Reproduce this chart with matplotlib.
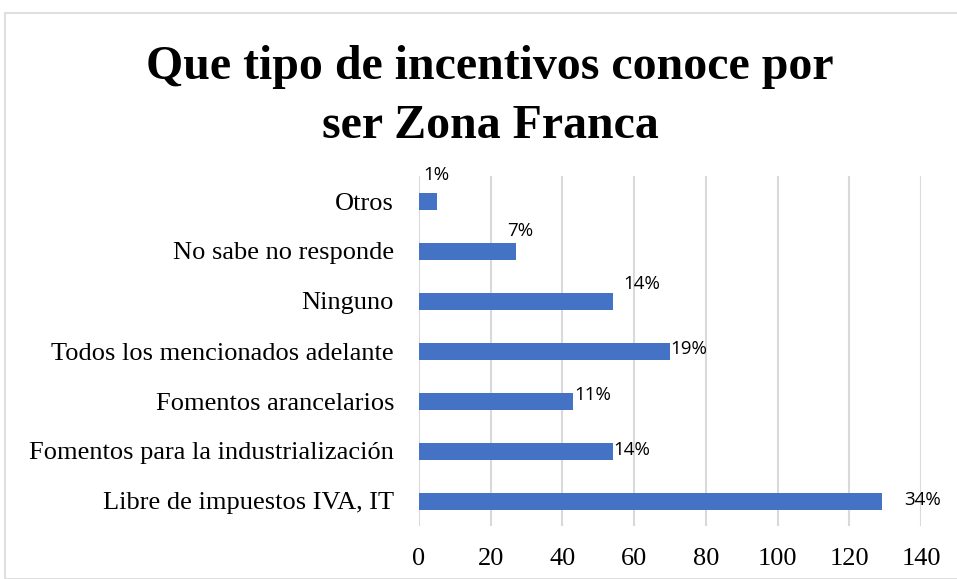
import matplotlib
matplotlib.use("Agg")
from matplotlib import pyplot as plt
from matplotlib.patches import Rectangle

categories = [
    "Libre de impuestos IVA, IT",
    "Fomentos para la industrialización",
    "Fomentos arancelarios",
    "Todos los mencionados adelante",
    "Ninguno",
    "No sabe no responde",
    "Otros",
]
values = [129, 54, 43, 70, 54, 27, 5]
pct_labels = ["34%", "14%", "11%", "19%", "14%", "7%", "1%"]
ticks = [0, 20, 40, 60, 80, 100, 120, 140]

# label offsets in pixels (excel put them a bit all over the place)
label_offsets = [(23, 1), (1, 1), (1, 6), (0, 2), (11, 17), (-9, 20), (-14, 26)]

fig = plt.figure(figsize=(9.57, 5.79), dpi=100)
fig.patches.append(Rectangle((5 / 957, 0), 1, 1 - 13 / 579, transform=fig.transFigure,
                             fill=False, edgecolor="#d9d9d9", linewidth=1.2))

fig.text(0.512, 0.922, "Que tipo de incentivos conoce por\nser Zona Franca",
         ha="center", va="top", fontsize=34.5, fontweight="bold",
         family="Liberation Serif", linespacing=1.45)

ax = fig.add_axes([419 / 957, 53 / 579, 502 / 957, 350 / 579])
y = range(len(categories))
ax.barh(y, values, height=0.34, color="#4472C4", zorder=3)
ax.set_xlim(0, 140)
ax.set_ylim(-0.5, len(categories) - 0.5)
ax.set_xticks(ticks)
ax.set_yticks(list(y))
ax.set_yticklabels(categories)
for lbl in ax.get_xticklabels() + ax.get_yticklabels():
    lbl.set_family("Liberation Serif")
    lbl.set_fontsize(19)
ax.tick_params(length=0)
ax.tick_params(axis="x", pad=16)
ax.tick_params(axis="y", pad=18)
for s in ax.spines.values():
    s.set_visible(False)
ax.grid(axis="x", color="#d9d9d9", linewidth=1.5, zorder=0)

for i, (v, txt) in enumerate(zip(values, pct_labels)):
    dx, dy = label_offsets[i]
    ax.annotate(txt, (v, i), xytext=(dx, dy), textcoords="offset pixels",
                ha="left", va="center", fontsize=13.5, family="Open Sans", color="black")

fig.savefig("out.png", dpi=100)
